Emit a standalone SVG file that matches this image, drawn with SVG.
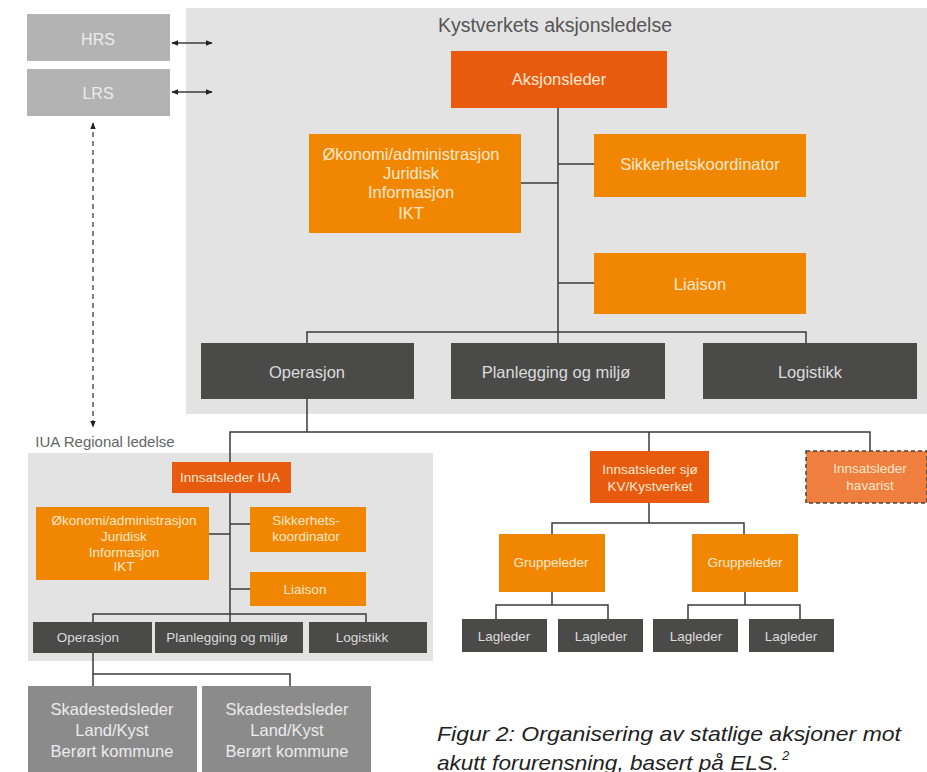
<svg xmlns="http://www.w3.org/2000/svg" width="927" height="772" viewBox="0 0 927 772">
<style>
text{font-family:"Liberation Sans",Arial,sans-serif;text-anchor:middle;dominant-baseline:central}
.panel{fill:#e3e3e3}
.or{fill:#f18700}
.dor{fill:#e85b0f}
.dk{fill:#4a4a49}
.lg{fill:#b3b3b3}
.md{fill:#8b8b8b}
.tor{fill:#fde8cf}
.tdk{fill:#dcdcdc}
.tlg{fill:#ececec}
.c{fill:none;stroke:#3a3a3a;stroke-width:1.5}
.big{font-size:16.5px}
.sm{font-size:13.5px}
</style>
<defs>
<marker id="ah" viewBox="0 0 10 10" refX="9" refY="5" markerWidth="7" markerHeight="7" orient="auto-start-reverse" markerUnits="userSpaceOnUse">
<path d="M0,1 L10,5 L0,9 Z" fill="#222"/>
</marker>
</defs>

<g id="panel-kystverket">
<rect class="panel" x="186" y="8" width="741" height="406"/>
<text x="555" y="25" style="font-size:19.5px;fill:#555">Kystverkets aksjonsledelse</text>
</g>
<g id="panel-iua">
<rect class="panel" x="28" y="453" width="405" height="208"/>
<text x="105" y="441" style="font-size:15px;fill:#666">IUA Regional ledelse</text>
</g>

<g id="connectors">
<path class="c" d="M172,43 H212" marker-start="url(#ah)" marker-end="url(#ah)"/>
<path class="c" d="M172,92 H212" marker-start="url(#ah)" marker-end="url(#ah)"/>
<path d="M93,123 V427" fill="none" stroke="#555" stroke-width="1.5" stroke-dasharray="5,4" marker-start="url(#ah)" marker-end="url(#ah)"/>
<path class="c" d="M558,108 V343"/>
<path class="c" d="M521,183 H558"/>
<path class="c" d="M558,164 H594"/>
<path class="c" d="M558,283 H594"/>
<path class="c" d="M307,343 V332 H806 V343"/>
<path class="c" d="M307,399 V432"/>
<path class="c" d="M230,462 V432 H870 V451"/>
<path class="c" d="M649,432 V451"/>
<path class="c" d="M230,493 V622"/>
<path class="c" d="M209,534 H230"/>
<path class="c" d="M230,524 H250"/>
<path class="c" d="M230,589 H250"/>
<path class="c" d="M93,622 V614 H366 V622"/>
<path class="c" d="M93,653 V686"/>
<path class="c" d="M93,674 H290 V686"/>
<path class="c" d="M649,503 V523"/>
<path class="c" d="M552,534 V523 H744 V534"/>
<path class="c" d="M552,592 V605"/>
<path class="c" d="M496,619 V605 H608 V619"/>
<path class="c" d="M745,592 V605"/>
<path class="c" d="M688,619 V605 H800 V619"/>
</g>

<g id="hrs"><rect class="lg" x="27" y="14" width="143" height="47"/><text class="tlg" x="98" y="39" style="font-size:16px">HRS</text></g>
<g id="lrs"><rect class="lg" x="27" y="69" width="143" height="47"/><text class="tlg" x="98" y="93" style="font-size:16px">LRS</text></g>

<g id="aksjonsleder"><rect class="dor" x="451" y="51" width="216" height="57"/><text class="tor big" x="559" y="79">Aksjonsleder</text></g>
<g id="okonomi"><rect class="or" x="309" y="134" width="212" height="99"/>
<text class="tor big" x="411" y="154">Økonomi/administrasjon</text>
<text class="tor big" x="411" y="173">Juridisk</text>
<text class="tor big" x="411" y="192">Informasjon</text>
<text class="tor big" x="411" y="213">IKT</text></g>
<g id="sikkerhet"><rect class="or" x="594" y="134" width="212" height="63"/><text class="tor big" x="700" y="164">Sikkerhetskoordinator</text></g>
<g id="liaison"><rect class="or" x="594" y="253" width="212" height="61"/><text class="tor big" x="700" y="284">Liaison</text></g>
<g id="operasjon"><rect class="dk" x="201" y="343" width="213" height="56"/><text class="tdk big" x="307" y="372">Operasjon</text></g>
<g id="planlegging"><rect class="dk" x="451" y="343" width="214" height="56"/><text class="tdk big" x="556" y="372">Planlegging og miljø</text></g>
<g id="logistikk"><rect class="dk" x="703" y="343" width="214" height="56"/><text class="tdk big" x="810" y="372">Logistikk</text></g>

<g id="innsatsleder-iua"><rect class="dor" x="172" y="462" width="119" height="31"/><text class="tor sm" x="230" y="477">Innsatsleder IUA</text></g>
<g id="iua-okonomi"><rect class="or" x="36" y="507" width="173" height="73"/>
<text class="tor sm" x="124" y="520">Økonomi/administrasjon</text>
<text class="tor sm" x="124" y="536">Juridisk</text>
<text class="tor sm" x="124" y="552">Informasjon</text>
<text class="tor sm" x="124" y="566">IKT</text></g>
<g id="iua-sikkerhet"><rect class="or" x="250" y="507" width="116" height="45"/>
<text class="tor sm" x="306" y="520">Sikkerhets-</text>
<text class="tor sm" x="306" y="536">koordinator</text></g>
<g id="iua-liaison"><rect class="or" x="250" y="572" width="116" height="34"/><text class="tor sm" x="305" y="589">Liaison</text></g>
<g id="iua-operasjon"><rect class="dk" x="33" y="622" width="119" height="31"/><text class="tdk sm" x="88" y="637">Operasjon</text></g>
<g id="iua-planlegging"><rect class="dk" x="155" y="622" width="148" height="31"/><text class="tdk sm" x="227" y="637">Planlegging og miljø</text></g>
<g id="iua-logistikk"><rect class="dk" x="309" y="622" width="118" height="31"/><text class="tdk sm" x="362" y="637">Logistikk</text></g>

<g id="skadested-1"><rect class="md" x="28" y="686" width="169" height="86"/>
<text class="tlg" x="112" y="709" style="font-size:16.5px">Skadestedsleder</text>
<text class="tlg" x="112" y="730" style="font-size:16.5px">Land/Kyst</text>
<text class="tlg" x="112" y="751" style="font-size:16.5px">Berørt kommune</text></g>
<g id="skadested-2"><rect class="md" x="202" y="686" width="169" height="86"/>
<text class="tlg" x="287" y="709" style="font-size:16.5px">Skadestedsleder</text>
<text class="tlg" x="287" y="730" style="font-size:16.5px">Land/Kyst</text>
<text class="tlg" x="287" y="751" style="font-size:16.5px">Berørt kommune</text></g>

<g id="innsatsleder-sjo"><rect class="dor" x="590" y="451" width="119" height="52"/>
<text class="tor sm" x="650" y="469">Innsatsleder sjø</text>
<text class="tor sm" x="650" y="486">KV/Kystverket</text></g>
<g id="innsatsleder-havarist"><rect x="806" y="451" width="121" height="52" fill="#ef7f3e" stroke="#444" stroke-width="1.5" stroke-dasharray="4,3"/>
<text class="tor sm" x="870" y="468">Innsatsleder</text>
<text class="tor sm" x="870" y="485">havarist</text></g>
<g id="gruppeleder-1"><rect class="or" x="499" y="534" width="106" height="58"/><text class="tor sm" x="551" y="562">Gruppeleder</text></g>
<g id="gruppeleder-2"><rect class="or" x="692" y="534" width="106" height="58"/><text class="tor sm" x="745" y="562">Gruppeleder</text></g>
<g id="lagleder-1"><rect class="dk" x="462" y="619" width="85" height="33"/><text class="tdk sm" x="504" y="636">Lagleder</text></g>
<g id="lagleder-2"><rect class="dk" x="558" y="619" width="85" height="33"/><text class="tdk sm" x="601" y="636">Lagleder</text></g>
<g id="lagleder-3"><rect class="dk" x="653" y="619" width="85" height="33"/><text class="tdk sm" x="696" y="636">Lagleder</text></g>
<g id="lagleder-4"><rect class="dk" x="749" y="619" width="85" height="33"/><text class="tdk sm" x="791" y="636">Lagleder</text></g>

<g id="caption" style="font-style:italic;fill:#222">
<text x="437" y="733" style="font-size:21px;text-anchor:start" textLength="464" lengthAdjust="spacingAndGlyphs">Figur 2: Organisering av statlige aksjoner mot</text>
<text x="437" y="762" style="font-size:21px;text-anchor:start" textLength="342" lengthAdjust="spacingAndGlyphs">akutt forurensning, basert på ELS.</text>
<text x="782" y="755" style="font-size:13px;text-anchor:start">2</text>
</g>
</svg>
